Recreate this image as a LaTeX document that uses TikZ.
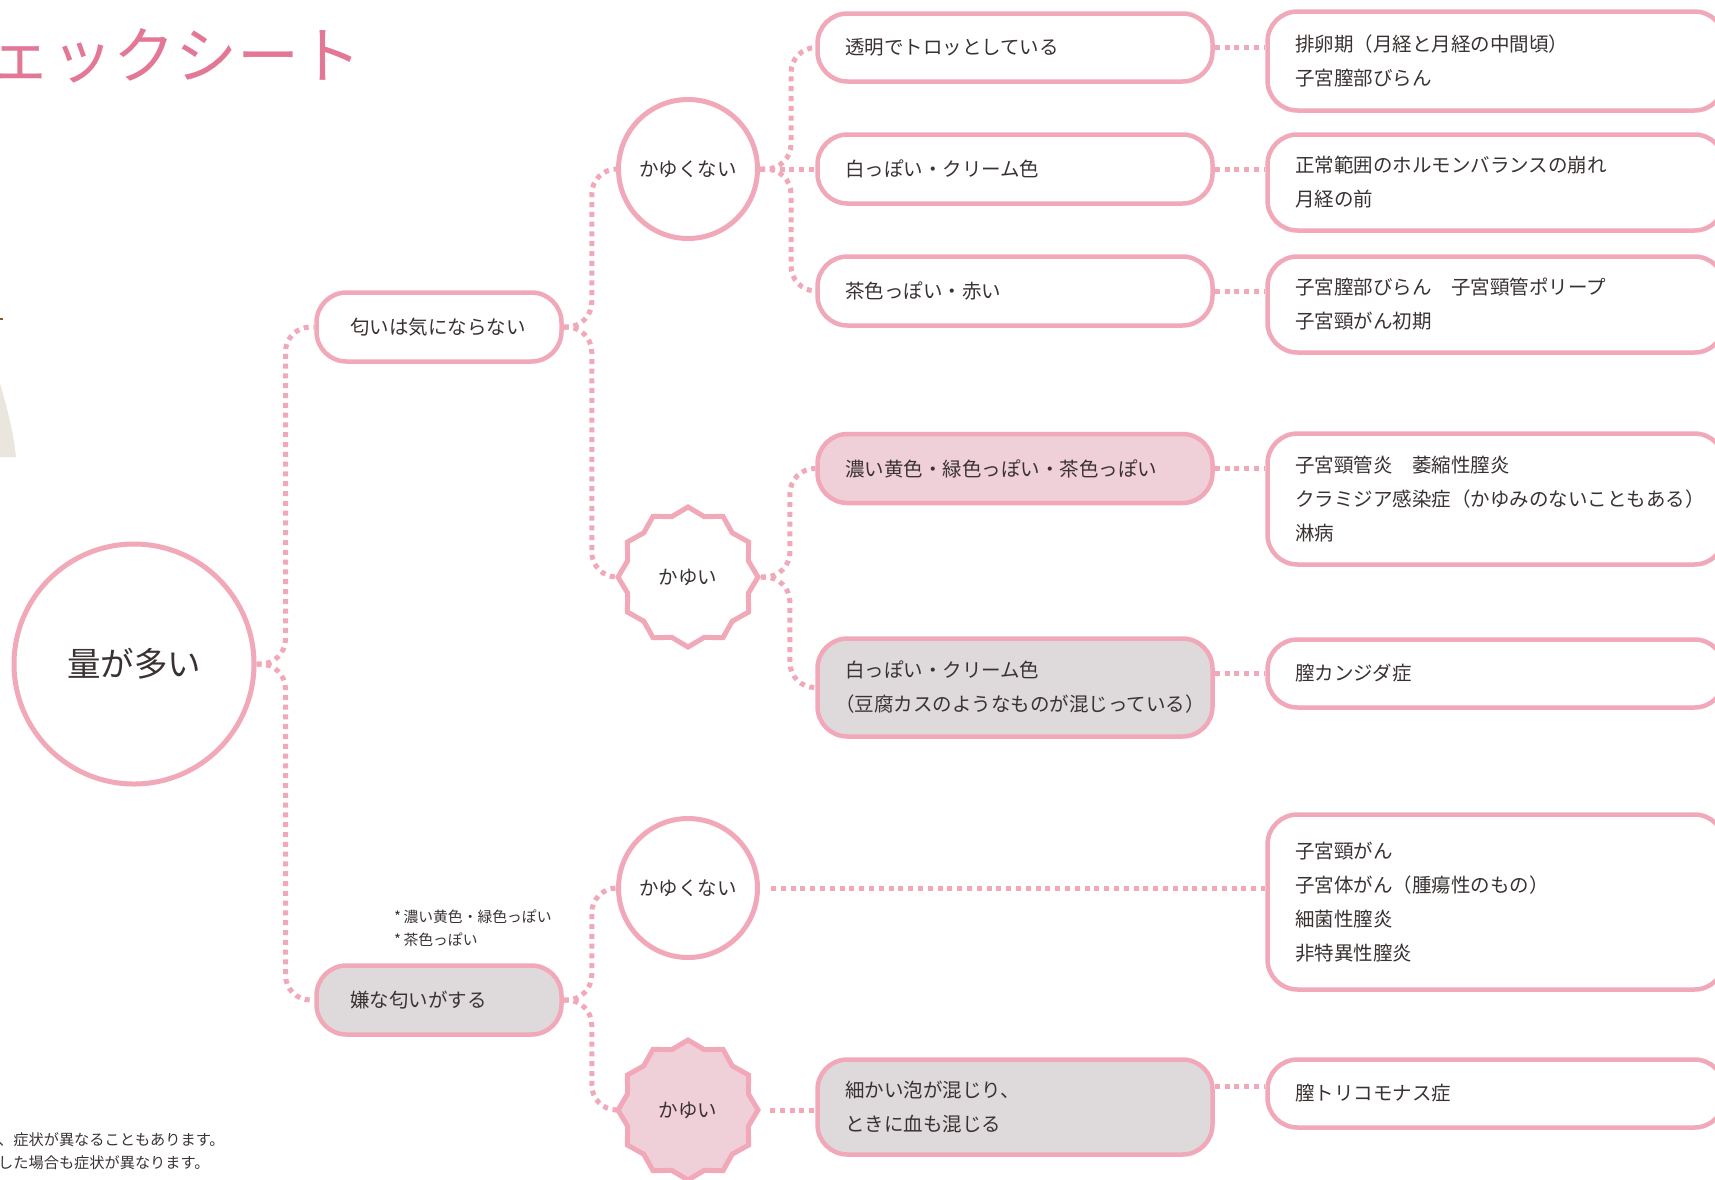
\documentclass[tikz,border=0pt]{standalone}
\usepackage{fontspec}
\usetikzlibrary{shapes.geometric}
\newfontfamily\jp{Noto Sans CJK JP}
\newfontfamily\jph[RawFeature=+halt]{Noto Sans CJK JP}
\newcommand\lparh{{\jph （}}
\definecolor{pk}{RGB}{241,168,185}
\definecolor{pkfill}{RGB}{240,208,216}
\definecolor{gyfill}{RGB}{222,218,219}
\definecolor{ttl}{RGB}{227,120,150}
\definecolor{tx}{RGB}{58,50,50}
\definecolor{beige}{RGB}{234,230,222}
\pgfdeclarelayer{bg}
\pgfsetlayers{bg,main}
\begin{document}
\begin{tikzpicture}[x=1pt,y=-1pt,
  txt/.style={text=tx, font=\jp\fontsize{19.5}{34}\selectfont},
  rbox/.style={draw=pk, line width=4.5pt, rounded corners=30pt, txt, align=left, inner ysep=0pt, fill=white},
  midbox/.style={rbox, text width=340pt, inner xsep=27.5pt},
  rightbox/.style={rbox, text width=402pt, inner xsep=27.5pt},
  leftbox/.style={rbox, text width=178pt, inner xsep=33.5pt, minimum height=69pt},
  cbox/.style={draw=pk, line width=5pt, circle, minimum size=139pt, inner sep=0pt, txt, fill=white},
  sbox/.style={draw=pk, line width=5pt, star, star points=12, star point ratio=1.12, minimum size=140pt, inner sep=0pt, txt, fill=white},
  conn/.style={draw=pk, line width=5pt, dash pattern=on 5pt off 4.8pt, rounded corners=25pt},
  small/.style={text=tx, font=\jp\fontsize{14.8}{23}\selectfont, inner sep=0pt, align=left},
  foot/.style={text=tx, font=\jp\fontsize{15.2}{23}\selectfont, inner sep=0pt},
]
\useasboundingbox (0,0) rectangle (1715,1179);
\clip (0,0) rectangle (1715,1179);

% left decorations
\fill[beige] (0,383) .. controls (6,405) and (13,428) .. (16,457) -- (0,457) -- cycle;
\fill[brown!70!black] (0,317.5) rectangle (2.5,319.5);

% title
\node[anchor=west, inner sep=0pt, text=ttl, font=\jp\fontsize{62}{62}\selectfont] (title) at (-11,56) {ェックシート};

% main nodes
\node[draw=pk, line width=5pt, circle, minimum size=240pt, inner sep=0pt, text=tx, font=\jp\fontsize{33.5}{36}\selectfont, fill=white] (big) at (134,664) {量が多い};

\node[leftbox] (b1) at (439,327) {匂いは気にならない};
\node[leftbox, fill=gyfill] (b2) at (439,1000) {嫌な匂いがする};

\node[cbox] (k1) at (688,169) {かゆくない};
\node[sbox] (s1) at (688,577) {かゆい};
\node[cbox] (k2) at (688,888) {かゆくない};
\node[sbox, fill=pkfill] (s2) at (688,1110) {かゆい};

\node[midbox, minimum height=68pt] (m1) at (1015,47.5) {透明でトロッとしている};
\node[midbox, minimum height=69pt] (m2) at (1015,169) {白っぽい・クリーム色};
\node[midbox, minimum height=69pt] (m3) at (1015,291) {茶色っぽい・赤い};
\node[midbox, minimum height=69pt, fill=pkfill] (m4) at (1015,468.5) {濃い黄色・緑色っぽい・茶色っぽい};
\node[midbox, minimum height=98pt, fill=gyfill] (m5) at (1015,687.5) {白っぽい・クリーム色\\\lparh 豆腐カスのようなものが混じっている）};
\node[midbox, minimum height=95pt, fill=gyfill] (m6) at (1015,1107) {細かい泡が混じり、\\ときに血も混じる};

\node[rightbox, minimum height=99pt] (r1) at (1496,61) {排卵期（月経と月経の中間頃）\\子宮膣部びらん};
\node[rightbox, minimum height=96pt] (r2) at (1496,182.5) {正常範囲のホルモンバランスの崩れ\\月経の前};
\node[rightbox, minimum height=96pt] (r3) at (1496,304.5) {子宮膣部びらん　子宮頸管ポリープ\\子宮頸がん初期};
\node[rightbox, minimum height=131pt] (r4) at (1496,499) {子宮頸管炎　萎縮性膣炎\\クラミジア感染症（かゆみのないこともある）\\淋病};
\node[rightbox, minimum height=68pt] (r5) at (1496,673.5) {膣カンジダ症};
\node[rightbox, minimum height=175pt] (r6) at (1496,902) {子宮頸がん\\子宮体がん（腫瘍性のもの）\\細菌性膣炎\\非特異性膣炎};
\node[rightbox, minimum height=68pt] (r7) at (1496,1093.5) {膣トリコモナス症};
\coordinate (r7a) at ([yshift=7pt]r7.west);

% notes
\node[small, anchor=west] (note) at (394,928.5) {*\,濃い黄色・緑色っぽい\\*\,茶色っぽい};
\node[foot, anchor=base west] (foot1) at (-2,1145) {、症状が異なることもあります。};
\node[foot, anchor=base west] (foot2) at (-2,1168) {した場合も症状が異なります。};

% connectors
\begin{pgfonlayer}{bg}
\draw[conn] (big.east) -- ([xshift=29pt]big.east) |- (b1.west);
\draw[conn] (big.east) -- ([xshift=29pt]big.east) |- (b2.west);
\draw[conn] (b1.east) -- ([xshift=28pt]b1.east) |- (k1.west);
\draw[conn] (b1.east) -- ([xshift=28pt]b1.east) |- (s1.west);
\draw[conn] (b2.east) -- ([xshift=28pt]b2.east) |- (k2.west);
\draw[conn] (b2.east) -- ([xshift=28pt]b2.east) |- (s2.west);
\draw[conn] (k1.east) -- ([xshift=31pt]k1.east) |- (m1.west);
\draw[conn] (k1.east) -- (m2.west);
\draw[conn] (k1.east) -- ([xshift=31pt]k1.east) |- (m3.west);
\draw[conn] (s1.east) -- ([xshift=29pt]s1.east) |- (m4.west);
\draw[conn] (s1.east) -- ([xshift=29pt]s1.east) |- (m5.west);
\draw[conn, shorten <=11pt] (k2.east) -- (k2.east -| r6.west);
\draw[conn, shorten <=9pt] (s2.east) -- (s2.east -| m6.west);
\draw[conn] (m1.east) -- (m1.east -| r1.west);
\draw[conn] (m2.east) -- (m2.east -| r2.west);
\draw[conn] (m3.east) -- (m3.east -| r3.west);
\draw[conn] (m4.east) -- (m4.east -| r4.west);
\draw[conn] (m5.east |- r5.west) -- (r5.west);
\draw[conn] (m6.east |- r7a) -- (r7a);
\end{pgfonlayer}
\end{tikzpicture}
\end{document}
